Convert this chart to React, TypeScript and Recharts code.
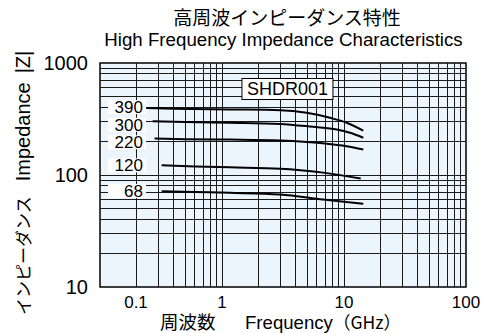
import React from 'react';
import { LineChart, Line, XAxis, YAxis, ReferenceLine, ReferenceArea, ReferenceDot, Customized } from 'recharts';

// axis ticks and grid values (log-log)
const xTicks = [0.1, 1, 10, 100];
const yTicks = [10, 100, 1000];
const xGrid = [0.2, 0.3, 0.4, 0.5, 0.6, 0.7, 0.8, 0.9, 1, 2, 3, 4, 5, 6, 7, 8, 9, 10, 20, 30, 40, 50, 60, 70, 80, 90];
const yGrid = [20, 30, 40, 50, 60, 70, 80, 90, 100, 200, 300, 400, 500, 600, 700, 800, 900];

// impedance curves (GHz, ohm)
const f390 = [0.24, 0.4, 1.16, 3, 4.94, 7.68, 10.5, 14.4];
const z390 = [397, 391, 385, 379, 359, 324, 293, 249];
const f300 = [0.27, 0.5, 1.16, 3, 5.57, 8.71, 11.2, 14.4];
const z300 = [302, 297, 293, 286, 269, 255, 238, 215];
const f220 = [0.28, 0.5, 1.16, 3, 6.73, 10.5, 14.4];
const z220 = [212, 209, 207, 203, 192, 181, 169];
const f120 = [0.32, 0.6, 1.16, 3, 6.73, 13.7];
const z120 = [122, 119, 117, 114, 105, 93];
const f68 = [0.32, 0.6, 1.16, 3, 6.73, 14.4];
const z68 = [71.5, 70.5, 69.3, 67, 60.4, 55.3];

const curveNames = ['390', '300', '220', '120', '68'];
const curveF = [f390, f300, f220, f120, f68];
const curveZ = [z390, z300, z220, z120, z68];
// where each value label sits (GHz at text end, ohm)
const labelF = [0.225, 0.225, 0.225, 0.225, 0.225];
const labelZ = [404, 281, 196, 122, 72];

const partName = 'SHDR001';
const partF = 3.44;
const partZ = 586;

const SANS = '"Liberation Sans", Arial, Helvetica, sans-serif';
const CJK = '"Noto Sans CJK JP", sans-serif';

const series = curveNames.map((name, i) => ({
  name,
  data: curveF[i].map((f, j) => ({ f, z: curveZ[i][j] })),
}));

const XTick = ({ x, y, payload }: any) => (
  <text x={x + (payload.value === 0.1 ? 36 : 0)} y={y} dy="0.71em" textAnchor="middle" fontSize={17} fontFamily={SANS} fill="#000">
    {payload.value}
  </text>
);

const ValueLabel = ({ cx, cy, text }: any) => (
  <g>
    <rect x={cx - 35} y={cy - 7} width={38} height={14} fill="#fff" />
    <text x={cx} y={cy} dy="0.36em" textAnchor="end" fontSize={17} fontFamily={SANS} fill="#000">{text}</text>
  </g>
);

const PartBox = ({ cx, cy }: any) => (
  <g>
    <rect x={cx - 45.5} y={cy - 10.5} width={91} height={21} fill="#fff" stroke="#000" strokeWidth={1} />
    <text x={cx} y={cy} dy="0.36em" textAnchor="middle" fontSize={18} fontFamily={SANS} fill="#000">{partName}</text>
  </g>
);

const Titles = () => (
  <g fill="#000">
    <text x={287} y={25} textAnchor="middle" fontSize={19} fontFamily={CJK}>高周波インピーダンス特性</text>
    <text x={283.5} y={46} textAnchor="middle" fontSize={18.7} fontFamily={SANS}>High Frequency Impedance Characteristics</text>
    <text y={328.5}>
      <tspan x={160} fontSize={18.5} fontFamily={CJK}>周波数</tspan>
      <tspan x={245} fontSize={18.6} fontFamily={SANS}>Frequency</tspan>
      <tspan x={333} fontSize={17.5} fontFamily={CJK}>（GHz）</tspan>
    </text>
    <text x={30} y={315} transform="rotate(-90, 30, 315)">
      <tspan fontSize={17} fontFamily={CJK}>インピーダンス</tspan>
      <tspan dx={15} fontSize={20} fontFamily={SANS}>Impedance</tspan>
      <tspan dx={9} fontSize={20} fontFamily={SANS}>|Z|</tspan>
    </text>
  </g>
);

export default function App() {
  return (
    <div style={{ position: 'absolute', left: 0, top: 0, width: 486, height: 333, background: '#fff' }}>
      <LineChart width={486} height={333} margin={{ top: 63, right: 20, left: 40, bottom: 16 }}>
        <XAxis dataKey="f" type="number" scale="log" domain={[0.1, 100]} ticks={xTicks} allowDataOverflow
          axisLine={false} tickLine={false} tickSize={0} tickMargin={9} height={30} tick={<XTick />} />
        <YAxis dataKey="z" type="number" scale="log" domain={[10, 1000]} ticks={yTicks} allowDataOverflow
          axisLine={false} tickLine={false} tickSize={0} tickMargin={12} width={60}
          tick={{ fontSize: 20, fill: '#000', fontFamily: SANS }} />
        <ReferenceArea x1={0.1} x2={100} y1={10} y2={1000} fill="#ecf4fc" fillOpacity={1} stroke="none" />
        {xGrid.map((v) => (
          <ReferenceLine key={'x' + v} x={v} stroke="#1a1a1a" strokeWidth={1} shapeRendering="crispEdges" />
        ))}
        {yGrid.map((v) => (
          <ReferenceLine key={'y' + v} y={v} stroke="#1a1a1a" strokeWidth={1} shapeRendering="crispEdges" />
        ))}
        {series.map((s) => (
          <Line key={s.name} data={s.data} dataKey="z" type="monotone" stroke="#000" strokeWidth={2}
            dot={false} activeDot={false} isAnimationActive={false} />
        ))}
        {curveNames.map((name, i) => (
          <ReferenceDot key={'l' + name} x={labelF[i]} y={labelZ[i]} r={0}
            shape={(p: any) => <ValueLabel {...p} text={name} />} />
        ))}
        <ReferenceDot x={partF} y={partZ} r={0} shape={(p: any) => <PartBox {...p} />} />
        <ReferenceArea x1={0.1} x2={100} y1={10} y2={1000} fill="none" stroke="#000" strokeWidth={1.5} />
        <Customized component={<Titles />} />
      </LineChart>
    </div>
  );
}
